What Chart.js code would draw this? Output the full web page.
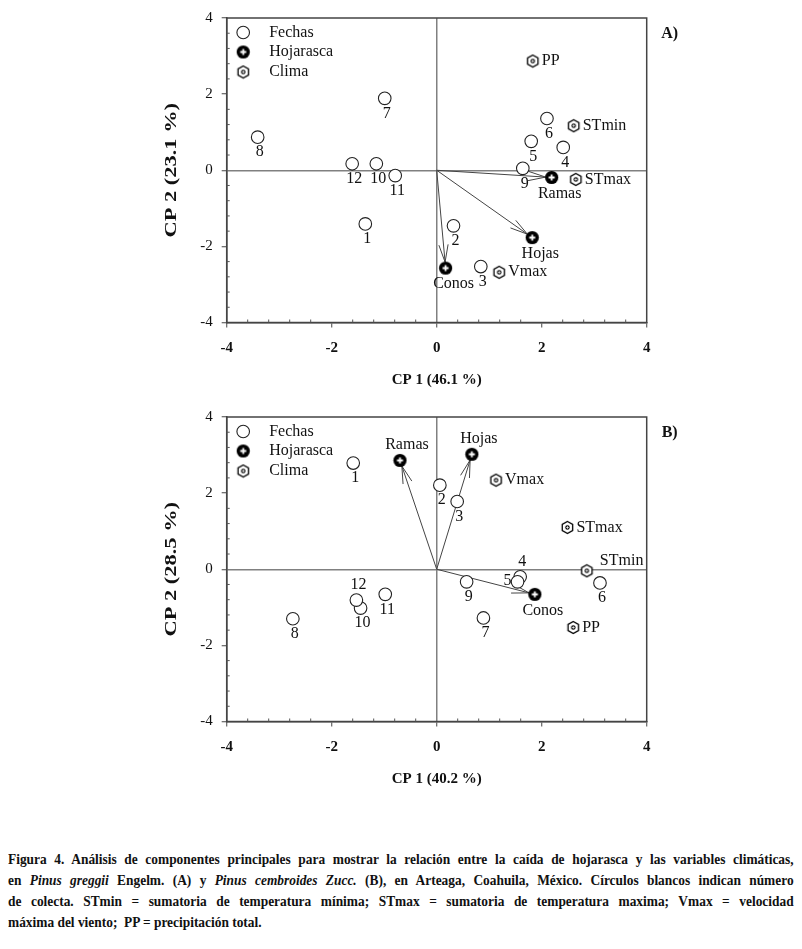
<!DOCTYPE html>
<html>
<head>
<meta charset="utf-8">
<script src="https://cdn.jsdelivr.net/npm/chart.js@4.4.1/dist/chart.umd.min.js"></script>
<style>
    body { margin: 0; background: #fff; width: 802px; height: 949px; position: relative; overflow: hidden; }
    .panel { position: absolute; left: 0; width: 802px; height: 400px; }
    #caption {
        position: absolute; left: 8px; top: 848px; width: 903px;
        transform: scaleX(0.87); transform-origin: 0 0;
        font-family: 'Liberation Serif', 'DejaVu Serif', serif;
        font-weight: bold; font-size: 15.4px; line-height: 21px; color: #111;
    }
    #caption div { text-align: justify; text-align-last: justify; }
    #caption div.last { text-align-last: left; }
</style>
</head>
<body>
<canvas id="chartA" class="panel" width="802" height="400" style="top:0"></canvas>
<canvas id="chartB" class="panel" width="802" height="400" style="top:399px"></canvas>
<div id="caption">
    <div>Figura 4. Análisis de componentes principales para mostrar la relación entre la caída de hojarasca y las variables climáticas,</div>
    <div>en <i>Pinus greggii</i> Engelm. (A) y <i>Pinus cembroides Zucc.</i> (B), en Arteaga, Coahuila, México. Círculos blancos indican número</div>
    <div>de colecta. STmin = sumatoria de temperatura mínima; STmax = sumatoria de temperatura maxima; Vmax = velocidad</div>
    <div class="last">máxima del viento;&nbsp; PP = precipitación total.</div>
</div>
<script>
// ---- labels shared by both panels ----
const fechaLabels = ['1', '2', '3', '4', '5', '6', '7', '8', '9', '10', '11', '12'];
const hojLabels = ['Ramas', 'Hojas', 'Conos'];
const climaLabels = ['PP', 'STmin', 'STmax', 'Vmax'];
const legendLabels = ['Fechas', 'Hojarasca', 'Clima'];
const majorTicks = [-4, -2, 0, 2, 4];

// ---- panel A: Pinus greggii ----
const titlesA = ['CP 1 (46.1 %)', 'CP 2 (23.1 %)'];
const fechaA_x = [-1.36, 0.32, 0.84, 2.41, 1.80, 2.10, -0.99, -3.41, 1.64, -1.15, -0.79, -1.61];
const fechaA_y = [-1.41, -1.46, -2.53, 0.60, 0.76, 1.36, 1.89, 0.87, 0.05, 0.17, -0.14, 0.17];
const hojA_x = [2.19, 1.82, 0.17];
const hojA_y = [-0.19, -1.77, -2.57];
const climaA_x = [1.83, 2.61, 2.65, 1.19];
const climaA_y = [2.87, 1.17, -0.24, -2.68];

// ---- panel B: Pinus cembroides ----
const titlesB = ['CP 1 (40.2 %)', 'CP 2 (28.5 %)'];
const fechaB_x = [-1.59, 0.06, 0.39, 1.59, 1.54, 3.11, 0.89, -2.74, 0.57, -1.45, -0.98, -1.53];
const fechaB_y = [2.79, 2.21, 1.78, -0.20, -0.33, -0.36, -1.28, -1.30, -0.33, -1.02, -0.66, -0.81];
const hojB_x = [-0.70, 0.67, 1.87];
const hojB_y = [2.86, 3.02, -0.66];
const climaB_x = [2.60, 2.86, 2.49, 1.13];
const climaB_y = [-1.53, -0.04, 1.10, 2.34];

// where each point label sits (b = below, a = above, l = left, r = right, ar = above right)
const placeA = {
    fechas: Array(12).fill('b'),
    hoj: ['b', 'b', 'b'],
    clima: ['r', 'r', 'r', 'r']
};
const placeB = {
    fechas: ['b', 'b', 'b', 'a', 'l', 'b', 'b', 'b', 'b', 'b', 'b', 'a'],
    hoj: ['a', 'a', 'b'],
    clima: ['r', 'ar', 'r', 'r']
};

const SERIF = "'Liberation Serif', 'DejaVu Serif', serif";
const INK = '#111';

function zip(xs, ys) {
    return xs.map((x, i) => ({ x: x, y: ys[i] }));
}

function isMajor(v) {
    return majorTicks.some(m => Math.abs(m - v) < 1e-6);
}

// marker images for the point styles
function makeMarker(size, draw) {
    const c = document.createElement('canvas');
    c.width = size;
    c.height = size;
    draw(c.getContext('2d'), size / 2);
    return c;
}

const hojMarker = makeMarker(15, (ctx, m) => {
    ctx.fillStyle = '#000';
    ctx.beginPath();
    ctx.arc(m, m, 6.6, 0, Math.PI * 2);
    ctx.fill();
    ctx.strokeStyle = '#fff';
    ctx.lineWidth = 1.8;
    ctx.beginPath();
    ctx.moveTo(m - 3, m); ctx.lineTo(m + 3, m);
    ctx.moveTo(m, m - 3); ctx.lineTo(m, m + 3);
    ctx.stroke();
});

const climaMarker = makeMarker(15, (ctx, m) => {
    ctx.fillStyle = '#fff';
    ctx.strokeStyle = '#000';
    ctx.lineWidth = 1.3;
    ctx.beginPath();
    for (let k = 0; k < 6; k++) {
        const a = -Math.PI / 2 + k * Math.PI / 3;
        const px = m + 6 * Math.cos(a), py = m + 6 * Math.sin(a);
        if (k === 0) ctx.moveTo(px, py); else ctx.lineTo(px, py);
    }
    ctx.closePath();
    ctx.fill();
    ctx.stroke();
    ctx.fillStyle = '#000';
    ctx.beginPath();
    ctx.arc(m, m, 2.2, 0, Math.PI * 2);
    ctx.fill();
    ctx.strokeStyle = '#fff';
    ctx.lineWidth = 0.8;
    ctx.beginPath();
    ctx.moveTo(m - 1.3, m); ctx.lineTo(m + 1.3, m);
    ctx.moveTo(m, m - 1.3); ctx.lineTo(m, m + 1.3);
    ctx.stroke();
});

function labelOffset(code, kind) {
    const hoj = kind === 'hoj';
    switch (code) {
        case 'a': return [hoj ? 7 : 2, hoj ? -16 : -15, 'center'];
        case 'l': return [-6, -1, 'right'];
        case 'r': return [9, 0, 'left'];
        case 'ar': return [13, -10, 'left'];
        default: return [hoj ? 8 : 2, hoj ? 16 : 15, 'center'];
    }
}

// arrows, frame, minor ticks, labels, legend, y title, panel letter
function makeDecor(place, yTitle, letter) {
    return {
        id: 'decor',
        beforeDatasetsDraw(chart) {
            const ctx = chart.ctx;
            const xs = chart.scales.x, ys = chart.scales.y;
            const ox = xs.getPixelForValue(0), oy = ys.getPixelForValue(0);
            const pts = chart.getDatasetMeta(1).data;
            ctx.save();
            ctx.strokeStyle = '#444';
            ctx.lineWidth = 1;
            pts.forEach(p => {
                const dx = p.x - ox, dy = p.y - oy;
                const len = Math.hypot(dx, dy);
                const ux = dx / len, uy = dy / len;
                const tx = p.x - ux * 6, ty = p.y - uy * 6;
                ctx.beginPath();
                ctx.moveTo(ox, oy);
                ctx.lineTo(tx, ty);
                const ang = Math.atan2(uy, ux);
                [0.26, -0.26].forEach(s => {
                    ctx.moveTo(tx, ty);
                    ctx.lineTo(tx - 18 * Math.cos(ang + s), ty - 18 * Math.sin(ang + s));
                });
                ctx.stroke();
            });
            ctx.restore();
        },
        afterDatasetsDraw(chart) {
            const ctx = chart.ctx;
            const area = chart.chartArea;
            ctx.save();
            // frame
            ctx.strokeStyle = '#444';
            ctx.lineWidth = 1.5;
            ctx.strokeRect(area.left, area.top, area.right - area.left, area.bottom - area.top);
            // minor ticks, pointing inward
            ctx.lineWidth = 1;
            ctx.strokeStyle = '#555';
            ctx.beginPath();
            chart.scales.x.ticks.forEach(t => {
                if (isMajor(t.value)) return;
                const px = chart.scales.x.getPixelForValue(t.value);
                ctx.moveTo(px, area.bottom);
                ctx.lineTo(px, area.bottom - 3);
            });
            chart.scales.y.ticks.forEach(t => {
                if (isMajor(t.value)) return;
                const py = chart.scales.y.getPixelForValue(t.value);
                ctx.moveTo(area.left, py);
                ctx.lineTo(area.left + 3, py);
            });
            ctx.stroke();

            // point labels
            ctx.fillStyle = INK;
            ctx.font = '16px ' + SERIF;
            ctx.textBaseline = 'middle';
            const groups = [['fechas', fechaLabels], ['hoj', hojLabels], ['clima', climaLabels]];
            groups.forEach(([kind, names], di) => {
                chart.getDatasetMeta(di).data.forEach((p, i) => {
                    const [dx, dy, align] = labelOffset(place[kind][i], kind);
                    ctx.textAlign = align;
                    ctx.fillText(names[i], p.x + dx, p.y + dy);
                });
            });

            // legend in the top left corner
            const lx = area.left + 16.5;
            const rows = [area.top + 14.5, area.top + 34, area.top + 54];
            ctx.beginPath();
            ctx.arc(lx, rows[0], 6.3, 0, Math.PI * 2);
            ctx.fillStyle = '#fff';
            ctx.fill();
            ctx.strokeStyle = '#222';
            ctx.lineWidth = 1.1;
            ctx.stroke();
            ctx.drawImage(hojMarker, lx - 7.5, rows[1] - 7.5);
            ctx.drawImage(climaMarker, lx - 7.5, rows[2] - 7.5);
            ctx.fillStyle = INK;
            ctx.textAlign = 'left';
            legendLabels.forEach((t, i) => ctx.fillText(t, area.left + 42.5, rows[i]));

            // panel letter
            ctx.font = 'bold 16px ' + SERIF;
            ctx.textAlign = 'center';
            ctx.fillText(letter, area.right + 23, area.top + 16);

            // y axis title, stretched along its length like the original
            ctx.translate(172, (area.top + area.bottom) / 2);
            ctx.rotate(-Math.PI / 2);
            ctx.scale(1.32, 1);
            ctx.font = 'bold 17px ' + SERIF;
            ctx.textAlign = 'center';
            ctx.fillText(yTitle, 0, 0);
            ctx.restore();
        }
    };
}

function buildChart(id, fx, fy, hx, hy, cx, cy, titles, place, letter) {
    const gridColor = c => (c.tick && Math.abs(c.tick.value) < 1e-6 ? '#808080' : 'rgba(0,0,0,0)');
    const tickColor = c => (c.tick && isMajor(c.tick.value) ? '#444' : 'rgba(0,0,0,0)');
    const label = v => (isMajor(v) ? String(Math.round(v)) : '');

    return new Chart(document.getElementById(id).getContext('2d'), {
        type: 'scatter',
        data: {
            datasets: [{
                label: legendLabels[0],
                data: zip(fx, fy),
                pointStyle: 'circle',
                pointRadius: 6.3,
                backgroundColor: '#fff',
                borderColor: '#222',
                borderWidth: 1.1
            }, {
                label: legendLabels[1],
                data: zip(hx, hy),
                pointStyle: hojMarker,
                pointRadius: 7
            }, {
                label: legendLabels[2],
                data: zip(cx, cy),
                pointStyle: climaMarker,
                pointRadius: 6
            }]
        },
        options: {
            responsive: false,
            animation: false,
            events: [],
            layout: { padding: { left: 162, right: 155.3, top: 16.7, bottom: 11 } },
            plugins: {
                legend: { display: false },
                tooltip: { enabled: false }
            },
            scales: {
                x: {
                    type: 'linear',
                    min: -4,
                    max: 4,
                    ticks: {
                        stepSize: 0.4,
                        autoSkip: false,
                        maxRotation: 0,
                        padding: 12,
                        color: INK,
                        font: { family: SERIF, size: 15, weight: 'bold' },
                        callback: label
                    },
                    grid: { color: gridColor, lineWidth: 1.5, tickColor: tickColor, tickLength: 5, tickWidth: 1 },
                    border: { color: '#444', width: 1.5 },
                    title: {
                        display: true,
                        text: titles[0],
                        color: INK,
                        padding: 0,
                        font: { family: SERIF, size: 15, weight: 'bold', lineHeight: 1.2 }
                    },
                    afterFit: s => { s.height = 66.5; }
                },
                y: {
                    type: 'linear',
                    min: -4,
                    max: 4,
                    ticks: {
                        stepSize: 0.4,
                        autoSkip: false,
                        padding: 9,
                        color: INK,
                        font: { family: SERIF, size: 15 },
                        callback: label
                    },
                    grid: { color: gridColor, lineWidth: 1.5, tickColor: tickColor, tickLength: 5, tickWidth: 1 },
                    border: { color: '#444', width: 1.5 },
                    afterFit: s => { s.width = 64.7; }
                }
            }
        },
        plugins: [makeDecor(place, titles[1], letter)]
    });
}

buildChart('chartA', fechaA_x, fechaA_y, hojA_x, hojA_y, climaA_x, climaA_y, titlesA, placeA, 'A)');
buildChart('chartB', fechaB_x, fechaB_y, hojB_x, hojB_y, climaB_x, climaB_y, titlesB, placeB, 'B)');
</script>
</body>
</html>
